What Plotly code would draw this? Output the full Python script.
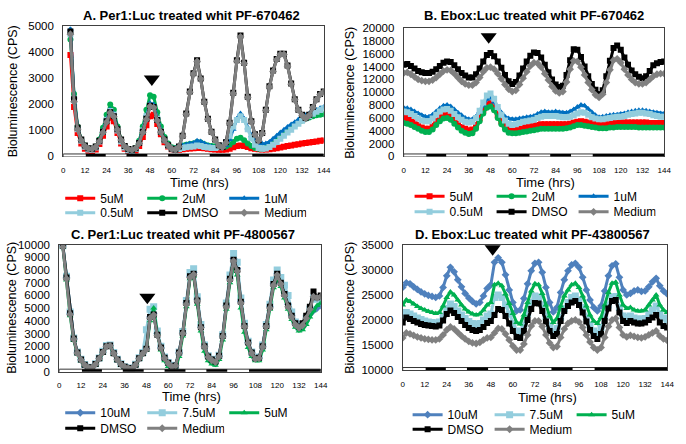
import plotly.graph_objects as go

FONT = "Arial, 'Liberation Sans', sans-serif"

# ---------------- data ----------------
time_h = list(range(0, 145, 2))
x_ticks = list(range(0, 145, 12))
dark_periods = [(12.5, 23.5), (35, 46.5), (58, 69.5), (81, 92.5), (104.5, 144)]

# Panel A: Per1:Luc + PF-670462 (0..5000 CPS)
A_5uM = [None, None, 3900, 1900, 900, 500, 300, 220, 200, 270, 480, 800, 1150, 1500, 1350, 900, 500, 300, 200, 180, 230, 400, 750, 1200, 1550, 1600, 1250, 850, 550, 380, 280, 250, 260, 280, 300, 310, 320, 330, 330, 320, 300, 280, 270, 260, 260, 270, 300, 350, 400, 420, 400, 360, 320, 300, 280, 270, 270, 280, 300, 320, 340, 370, 400, 420, 450, 470, 500, 520, 540, 560, 580, 600, 610]
A_2uM = [None, None, 4500, 2400, 1150, 650, 420, 310, 300, 380, 650, 1100, 1600, 2000, 1800, 1150, 650, 380, 270, 250, 330, 600, 1150, 1800, 2350, 2300, 1700, 1150, 750, 500, 350, 330, 370, 420, 450, 480, 500, 560, 540, 470, 420, 400, 390, 380, 360, 380, 450, 560, 680, 720, 620, 500, 400, 330, 300, 300, 330, 400, 500, 620, 750, 880, 1000, 1100, 1200, 1300, 1380, 1450, 1500, 1550, 1580, 1600, 1620]
A_1uM = [None, None, 4900, 2300, 1100, 600, 380, 280, 270, 350, 600, 1000, 1450, 1800, 1650, 1050, 600, 350, 240, 220, 300, 550, 1050, 1600, 2050, 2000, 1500, 1000, 650, 450, 330, 320, 370, 420, 460, 500, 520, 600, 580, 500, 430, 380, 350, 340, 350, 420, 650, 1050, 1450, 1650, 1450, 1100, 800, 620, 520, 490, 500, 560, 680, 800, 920, 1030, 1130, 1230, 1320, 1420, 1500, 1580, 1650, 1720, 1790, 1850, 1900]
A_05uM = [None, None, 4700, 2200, 1050, 600, 370, 270, 260, 340, 580, 950, 1400, 1750, 1600, 1000, 580, 340, 230, 210, 290, 520, 1000, 1550, 1950, 1900, 1450, 950, 620, 420, 300, 260, 290, 330, 350, 370, 380, 420, 400, 360, 340, 330, 330, 350, 400, 550, 800, 1150, 1400, 1550, 1400, 1050, 700, 450, 330, 300, 310, 360, 450, 560, 680, 800, 920, 1030, 1150, 1260, 1370, 1470, 1560, 1640, 1720, 1790, 1850]
A_DMSO = [None, None, 4800, 2200, 1100, 650, 420, 320, 300, 380, 600, 950, 1350, 1700, 1550, 1050, 650, 400, 290, 260, 320, 520, 950, 1450, 1950, 1900, 1400, 950, 650, 430, 300, 270, 380, 800, 1650, 2500, 3200, 3700, 3000, 2100, 1450, 950, 650, 430, 360, 550, 1300, 2450, 3700, 4650, 3600, 2300, 1350, 850, 620, 900, 1800, 2700, 3300, 3750, 3950, 3950, 3500, 2800, 2200, 1800, 1600, 1480, 1600, 1900, 2200, 2400, 2500]
A_Medium = [None, None, 4700, 2100, 1050, 620, 400, 300, 290, 370, 580, 920, 1320, 1680, 1530, 1030, 630, 390, 280, 250, 310, 500, 920, 1420, 1920, 1880, 1380, 930, 630, 420, 290, 260, 370, 780, 1620, 2470, 3170, 3650, 2980, 2080, 1430, 930, 630, 420, 350, 530, 1270, 2420, 3660, 4600, 3570, 2270, 1330, 840, 610, 880, 1770, 2670, 3270, 3720, 3920, 3920, 3470, 2780, 2180, 1780, 1580, 1460, 1580, 1880, 2180, 2380, 2480]

# Panel B: Ebox:Luc + PF-670462 (0..20000 CPS)
B_5uM = [6100, 6000, 5700, 5300, 4900, 4500, 4300, 4300, 4800, 5500, 6100, 6500, 6600, 6300, 5700, 5100, 4600, 4300, 4100, 4200, 4900, 6000, 7200, 8100, 8300, 7600, 6500, 5500, 4800, 4300, 4200, 4300, 4400, 4500, 4600, 4700, 4800, 4900, 5000, 5000, 5000, 5000, 5000, 5000, 5000, 5000, 5100, 5300, 5400, 5500, 5400, 5300, 5200, 5100, 5000, 5000, 5000, 5100, 5200, 5200, 5300, 5300, 5300, 5300, 5300, 5300, 5300, 5300, 5200, 5200, 5200, 5200, 5200]
B_2uM = [5200, 5100, 4900, 4600, 4300, 4000, 3800, 3800, 4200, 4900, 5500, 5900, 6000, 5700, 5100, 4500, 4000, 3700, 3500, 3600, 4300, 5500, 6700, 7600, 7800, 7200, 6000, 5000, 4200, 3700, 3600, 3600, 3700, 3800, 3900, 4000, 4100, 4200, 4300, 4300, 4300, 4300, 4300, 4300, 4300, 4400, 4500, 4700, 4900, 4900, 4800, 4700, 4600, 4500, 4400, 4400, 4400, 4500, 4500, 4600, 4600, 4600, 4600, 4600, 4600, 4500, 4500, 4500, 4500, 4500, 4500, 4500, 4500]
B_1uM = [7600, 7500, 7300, 7000, 6700, 6400, 6200, 6200, 6500, 7000, 7500, 7900, 8000, 7800, 7300, 6800, 6400, 6000, 5800, 5800, 6200, 7000, 8000, 8900, 9200, 8500, 7600, 6800, 6200, 5900, 5800, 5800, 5900, 6000, 6100, 6200, 6300, 6600, 6900, 7000, 6900, 6900, 7000, 6900, 6800, 6800, 7000, 7300, 7700, 8000, 7900, 7400, 6900, 6400, 6100, 6200, 6300, 6400, 6500, 6500, 6600, 6700, 6900, 7000, 7100, 7200, 7200, 7100, 7000, 6900, 6800, 6700, 6700]
B_05uM = [7000, 6900, 6600, 6300, 5900, 5600, 5500, 5500, 5900, 6500, 7000, 7300, 7400, 7100, 6600, 6100, 5700, 5400, 5300, 5400, 6000, 7100, 8400, 9500, 9800, 9000, 7700, 6500, 5600, 5100, 4900, 5000, 5200, 5400, 5500, 5600, 5700, 6000, 6200, 6300, 6300, 6300, 6300, 6200, 6100, 6100, 6200, 6400, 6700, 6900, 6800, 6500, 6100, 5900, 5800, 5800, 5900, 6000, 6100, 6200, 6200, 6300, 6500, 6600, 6700, 6800, 6800, 6700, 6600, 6400, 6300, 6200, 6200]
B_DMSO = [14300, 14400, 14100, 13700, 13300, 13100, 13000, 13000, 13200, 13600, 14100, 14600, 14800, 14700, 14200, 13600, 13000, 12600, 12300, 12300, 12800, 13700, 14800, 15800, 16100, 15600, 14800, 13800, 12700, 11700, 11300, 11600, 12600, 13700, 14800, 15700, 16200, 16100, 15400, 14300, 13100, 12000, 11200, 10800, 11000, 12700, 15000, 16700, 16600, 15500, 14000, 12500, 11300, 10400, 9700, 10300, 12500, 14900, 16900, 17300, 16600, 15400, 14300, 13400, 12800, 12400, 12200, 12500, 13300, 14200, 14500, 14700, 14800]
B_Medium = [13000, 13100, 12800, 12400, 12000, 11800, 11700, 11700, 11900, 12300, 12800, 13300, 13500, 13400, 12900, 12300, 11700, 11300, 11100, 11100, 11500, 12300, 13200, 13800, 13900, 13600, 12900, 12100, 11200, 10500, 10100, 10300, 11200, 12200, 13200, 14100, 14600, 14500, 13900, 12900, 11900, 10900, 10200, 9900, 10100, 11600, 13600, 14900, 14800, 13900, 12700, 11500, 10400, 9600, 9200, 9700, 11500, 13500, 15000, 15200, 14600, 13600, 12700, 12000, 11500, 11300, 11300, 11500, 12000, 12500, 12800, 12900, 12900]

# Panel C: Per1:Luc + PF-4800567 (0..10000 CPS)
C_10uM = [None, 9900, 7400, 4600, 2600, 1500, 950, 550, 330, 320, 600, 1050, 1550, 2000, 2050, 1450, 950, 600, 380, 280, 250, 550, 1050, 1450, 1800, 4300, 4600, 3000, 1900, 1100, 700, 400, 480, 1500, 3050, 5400, 7500, 7800, 5700, 3500, 2000, 1200, 950, 800, 1250, 2800, 5200, 7300, 8900, 8100, 5500, 3600, 2300, 1500, 1050, 1100, 2000, 3600, 5100, 6900, 7700, 7000, 6200, 5300, 4400, 3800, 3500, 3600, 4000, 4500, 4800, 5000, 5200]
C_75uM = [None, 9900, 7500, 4700, 2650, 1550, 980, 570, 340, 330, 620, 1080, 1600, 2050, 2100, 1500, 980, 620, 390, 290, 260, 580, 1100, 1500, 3300, 4900, 5100, 3200, 2000, 1150, 720, 420, 500, 1550, 3150, 5600, 7800, 8100, 5900, 3700, 2100, 1250, 980, 830, 1300, 2900, 5400, 7600, 9300, 8600, 5800, 3800, 2400, 1550, 1100, 1150, 2100, 3700, 5300, 7200, 8000, 7400, 6800, 6000, 4700, 3900, 3500, 3700, 4200, 4900, 5800, 5700, 5800]
C_5uM = [None, 9800, 7200, 4400, 2450, 1400, 850, 480, 270, 260, 530, 980, 1480, 1920, 1980, 1380, 880, 530, 320, 220, 200, 480, 980, 1380, 1700, 4000, 5000, 3000, 1700, 850, 400, 150, 200, 1200, 2800, 5100, 7300, 7500, 5300, 3200, 1600, 850, 600, 500, 950, 2500, 4900, 7000, 8300, 7600, 5000, 3100, 1900, 1200, 850, 850, 1700, 3300, 4900, 6600, 7400, 6700, 5800, 4900, 4100, 3500, 3200, 3300, 3700, 4300, 4800, 5200, 5400]
C_DMSO = [None, 9900, 7400, 4600, 2600, 1500, 950, 550, 330, 320, 600, 1050, 1550, 2000, 2050, 1450, 950, 600, 380, 280, 250, 550, 1050, 1450, 1800, 4300, 4500, 2900, 1900, 1100, 700, 400, 480, 1500, 3050, 5400, 7500, 7700, 5600, 3500, 2000, 1200, 950, 800, 1250, 2800, 5200, 7300, 8800, 8000, 5500, 3600, 2300, 1500, 1050, 1100, 2000, 3600, 5100, 6900, 7700, 7000, 6100, 5200, 4400, 3800, 3550, 3800, 4400, 5100, 6300, 5850, 6000]
C_Medium = [None, 9800, 7300, 4500, 2550, 1450, 920, 530, 320, 310, 580, 1020, 1520, 1980, 2030, 1430, 930, 580, 370, 270, 240, 530, 1020, 1420, 1750, 4200, 4450, 2850, 1850, 1050, 650, 380, 460, 1450, 3000, 5300, 7400, 7650, 5550, 3450, 1950, 1150, 900, 760, 1200, 2750, 5100, 7200, 8700, 7900, 5400, 3550, 2250, 1450, 1000, 1050, 1950, 3550, 5000, 6800, 7600, 6900, 6000, 5100, 4300, 3700, 3450, 3650, 4200, 4900, 5900, 5800, 5900]

# Panel D: Ebox:Luc + PF-43800567 (10000..35000 CPS)
D_10uM = [26500, 27400, 27200, 26600, 26100, 25600, 25200, 24900, 24700, 24500, 24800, 26500, 28800, 30500, 29600, 28000, 26600, 25300, 24400, 23700, 23200, 23500, 24800, 26300, 27000, 31500, 32400, 31500, 29000, 26000, 23500, 21800, 22000, 24300, 27200, 29800, 31300, 31500, 29500, 26500, 23500, 21600, 22500, 25500, 28000, 29800, 31000, 31300, 30500, 28500, 26000, 24000, 22500, 21800, 22800, 25800, 28800, 30800, 31200, 28500, 26000, 25000, 25300, 25800, 26000, 25700, 25800, 26600, 27600, 28300, 26800, 25800, 25200]
D_75uM = [20800, 21500, 21200, 20800, 20400, 20100, 19800, 19600, 19500, 19400, 19600, 20800, 22300, 23200, 22700, 21800, 21000, 20300, 19700, 19300, 19100, 19300, 20000, 20800, 21200, 24500, 25000, 24500, 23000, 21200, 19300, 17800, 17500, 19000, 21300, 23500, 24800, 24600, 23000, 20800, 18800, 17600, 18300, 20500, 22300, 23500, 24500, 24800, 24000, 22500, 20600, 19000, 17800, 17300, 18500, 20800, 23000, 24500, 24700, 22500, 20800, 20500, 20800, 20400, 20200, 20200, 20300, 21200, 22000, 22800, 21200, 20400, 20000]
D_5uM = [23000, 24000, 23700, 23200, 22700, 22300, 22000, 21700, 21500, 21300, 21500, 22800, 24500, 25600, 25000, 24000, 23000, 22200, 21600, 21200, 21000, 21200, 22000, 23000, 23500, 27000, 27300, 26800, 25200, 23300, 21300, 19500, 19200, 21000, 23500, 25800, 27200, 27000, 25300, 23000, 20800, 19500, 20300, 22800, 24800, 26000, 27000, 27300, 26500, 24800, 22800, 21000, 19800, 19300, 20500, 23000, 25500, 27300, 27500, 25000, 23000, 22300, 22500, 22000, 21800, 21800, 22000, 23000, 24000, 25000, 23000, 22000, 21500]
D_DMSO = [19500, 20500, 20200, 19800, 19500, 19200, 19000, 18900, 18800, 18700, 18900, 19900, 21200, 21900, 21400, 20600, 19800, 19000, 18400, 18000, 17800, 18000, 18600, 19400, 19800, 21000, 22200, 22000, 20800, 19300, 17800, 16600, 16400, 17800, 20000, 22200, 23400, 23300, 21800, 19700, 17800, 16800, 17200, 19800, 21800, 22800, 23500, 23800, 23000, 21500, 19700, 18000, 16800, 16200, 17200, 19800, 22300, 23800, 24000, 21500, 19800, 19400, 19800, 19500, 19300, 19300, 19500, 20000, 20500, 21000, 19500, 18800, 18500]
D_Medium = [16400, 17400, 17200, 16900, 16600, 16400, 16200, 16100, 16000, 16000, 16200, 17000, 18000, 18600, 18200, 17500, 16800, 16200, 15700, 15400, 15300, 15500, 16000, 16400, 16500, 17400, 18300, 18200, 17200, 16000, 14800, 14000, 14000, 15200, 17000, 18800, 19800, 19800, 18700, 17000, 15400, 14500, 14700, 16500, 18200, 19300, 19800, 20000, 19600, 18500, 17000, 15600, 14500, 14000, 14500, 16500, 18700, 20000, 20300, 18500, 17000, 16600, 16900, 16700, 16500, 16400, 16600, 17000, 17400, 17800, 16800, 16200, 15900]

# treatment arrows (time, level) per panel
arrow_time = [49, 47, 48.5, 49]
arrow_level = [2980, 18640, 5850, 34200]

titles = ["A. Per1:Luc treated whit PF-670462", "B. Ebox:Luc treated whit PF-670462",
          "C. Per1:Luc treated whit PF-4800567", "D. Ebox:Luc treated whit PF-43800567"]

for arr in [A_5uM, A_2uM, A_1uM, A_05uM, A_DMSO, A_Medium, B_5uM, B_2uM, B_1uM, B_05uM, B_DMSO,
            B_Medium, C_10uM, C_75uM, C_5uM, C_DMSO, C_Medium, D_10uM, D_75uM, D_5uM, D_DMSO, D_Medium]:
    assert len(arr) == len(time_h), len(arr)

# ---------------- styling ----------------
RED, GREEN, BLUE, LBLUE, STEEL = "#FF0000", "#00B050", "#0070C0", "#93CDDD", "#4F81BD"
BLACK, GREY = "#000000", "#808080"

set1 = lambda a: [
    ("5uM", a[0], RED, "square", 6, 0),
    ("2uM", a[1], GREEN, "circle", 6, 0),
    ("1uM", a[2], BLUE, "triangle-up", 6, 0),
    ("0.5uM", a[3], LBLUE, "square", 6, 1),
    ("DMSO", a[4], BLACK, "square", 6, 1),
    ("Medium", a[5], GREY, "diamond", 6, 1),
]
set2 = lambda a: [
    ("10uM", a[0], STEEL, "diamond", 6, 0),
    ("7.5uM", a[1], LBLUE, "square", 7, 0),
    ("5uM", a[2], GREEN, "triangle-up", 6, 0),
    ("DMSO", a[3], BLACK, "square", 6, 1),
    ("Medium", a[4], GREY, "diamond", 6, 1),
]

W, H = 686, 444
fx = lambda px: px / W
fy = lambda py: 1 - py / H

panels = [
    dict(series=set1([A_5uM, A_2uM, A_1uM, A_05uM, A_DMSO, A_Medium]), px=(62, 326), py=(21, 155),
         yr=(0, 5000), dt=1000, title=(192, 10), ytit=(12, 88), xtit=(200, 182), leg=(59, 198, 213)),
    dict(series=set1([B_5uM, B_2uM, B_1uM, B_05uM, B_DMSO, B_Medium]), px=(407, 671), py=(22.7, 155),
         yr=(0, 20000), dt=2000, title=(539, 10), ytit=(353, 89), xtit=(551, 182), leg=(413, 196, 212)),
    dict(series=set2([C_10uM, C_75uM, C_5uM, C_DMSO, C_Medium]), px=(58, 323), py=(245.7, 376.7),
         yr=(0, 10000), dt=1000, title=(183, 235), ytit=(10, 311), xtit=(192, 402), leg=(59, 419, 435)),
    dict(series=set2([D_10uM, D_75uM, D_5uM, D_DMSO, D_Medium]), px=(406, 674), py=(246, 375),
         yr=(10000, 35000), dt=5000, title=(538, 235), ytit=(353, 310.5), xtit=(553, 403), leg=(411, 421, 436)),
]

fig = go.Figure()
layout = dict(width=W, height=H, margin=dict(l=0, r=0, t=0, b=0), autosize=False, hovermode=False,
              plot_bgcolor="white", paper_bgcolor="white", font=dict(family=FONT, color="black"),
              annotations=[], shapes=[])

for i, p in enumerate(panels):
    k = "" if i == 0 else str(i + 1)
    xa, ya = "x" + k, "y" + k
    lg1 = "legend" if i == 0 else "legend" + str(2 * i + 1)
    lg2 = "legend" + str(2 * i + 2)
    for name, vals, col, sym, sz, row in p["series"]:
        fig.add_trace(go.Scatter(
            x=time_h, y=vals, name=name, mode="lines+markers", xaxis=xa, yaxis=ya,
            legend=lg1 if row == 0 else lg2,
            line=dict(color=col, width=3),
            marker=dict(color=col, symbol=sym, size=sz, line=dict(width=0)),
            connectgaps=False))
    fig.add_trace(go.Scatter(x=[arrow_time[i]], y=[arrow_level[i]], mode="markers", xaxis=xa, yaxis=ya,
                             showlegend=False, marker=dict(symbol="triangle-down", size=14, color="black")))
    dom_x = [fx(p["px"][0]), fx(p["px"][1])]
    dom_y = [fy(p["py"][1]), fy(p["py"][0])]
    layout["xaxis" + k] = dict(domain=dom_x, anchor=ya, range=[0, 144], tickvals=x_ticks,
                               tickfont=dict(size=8), showline=True, mirror=True, linecolor="#404040",
                               linewidth=1, showgrid=False, zeroline=False, ticks="", ticklabelstandoff=6)
    layout["yaxis" + k] = dict(domain=dom_y, anchor=xa, range=list(p["yr"]), dtick=p["dt"],
                               tickformat="d", tickfont=dict(size=11.5), showline=True, mirror=True,
                               linecolor="#404040", linewidth=1, showgrid=False, zeroline=False,
                               ticks="", ticklabelstandoff=6)
    # light / dark bar
    layout["shapes"].append(dict(type="rect", xref=xa, yref=ya, x0=0, x1=144, ysizemode="pixel",
                                 yanchor=p["yr"][0], y0=-2.5, y1=2.5, fillcolor="white",
                                 line=dict(color="black", width=0.8), layer="above"))
    for d0, d1 in dark_periods:
        layout["shapes"].append(dict(type="rect", xref=xa, yref=ya, x0=d0, x1=d1, ysizemode="pixel",
                                     yanchor=p["yr"][0], y0=-2.5, y1=2.5, fillcolor="black",
                                     line=dict(width=0), layer="above"))
    # texts
    layout["annotations"].append(dict(text="<b>" + titles[i] + "</b>", x=fx(p["title"][0]),
                                      y=fy(p["title"][1]), xref="paper", yref="paper",
                                      showarrow=False, font=dict(size=13), xanchor="center", yanchor="middle"))
    layout["annotations"].append(dict(text="Bioluminescence (CPS)", x=fx(p["ytit"][0]),
                                      y=fy(p["ytit"][1]), xref="paper", yref="paper", textangle=-90,
                                      showarrow=False, font=dict(size=12.5), xanchor="center", yanchor="middle"))
    layout["annotations"].append(dict(text="Time (hrs)", x=fx(p["xtit"][0]), y=fy(p["xtit"][1]),
                                      xref="paper", yref="paper", showarrow=False, font=dict(size=13),
                                      xanchor="center", yanchor="middle"))
    lx, r1, r2 = p["leg"]
    for lg, ry in ((lg1, r1), (lg2, r2)):
        layout[lg] = dict(orientation="h", x=fx(lx), y=fy(ry), xanchor="left", yanchor="middle",
                          bgcolor="rgba(0,0,0,0)", font=dict(size=12), entrywidth=37,
                          entrywidthmode="pixels", itemwidth=30, tracegroupgap=0)

fig.update_layout(**layout)
fig.write_html("out.html", config={"displayModeBar": False, "staticPlot": True},
               post_script="document.body.style.margin='0';document.body.style.overflow='hidden';")
